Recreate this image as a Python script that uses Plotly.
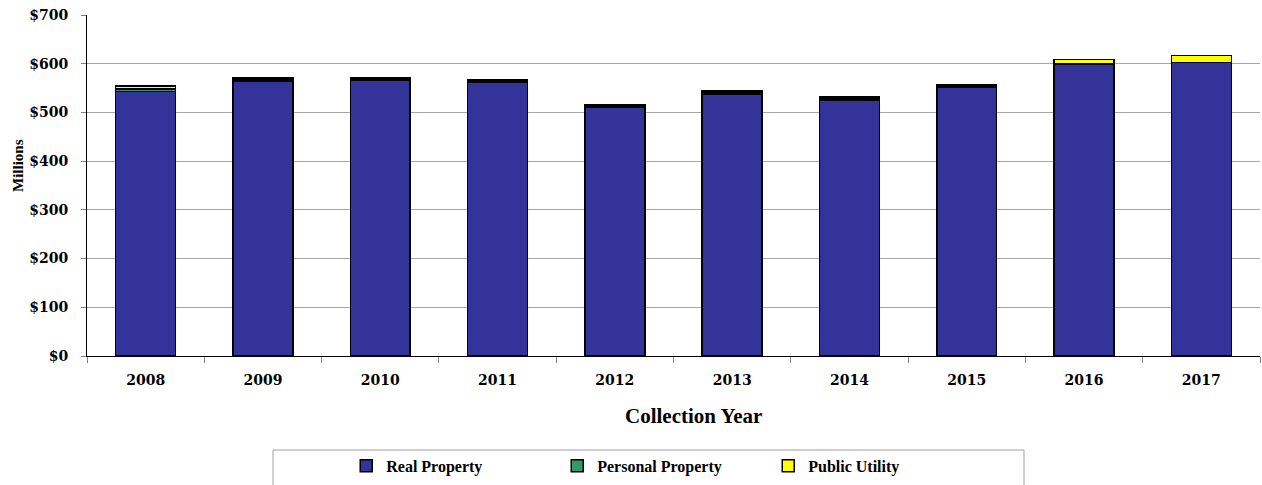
import plotly.graph_objects as go

years = ["2008", "2009", "2010", "2011", "2012", "2013", "2014", "2015", "2016", "2017"]
real_property = [543, 565, 566, 561, 511, 538, 526, 552, 598, 602]
personal_property = [5, 2.5, 2.5, 2.5, 2.5, 2.5, 2.5, 2.5, 1, 1]
public_utility = [6, 3, 3, 3, 3, 3, 3, 3, 10, 14]

TICKFONT = "DejaVu Serif"
TEXTFONT = "Liberation Serif"
line = dict(color="black", width=1.5)

fig = go.Figure()
fig.add_bar(x=years, y=real_property, name="Real Property",
            marker=dict(color="#333399", line=line))
fig.add_bar(x=years, y=personal_property, name="Personal Property",
            marker=dict(color="#339966", line=line))
fig.add_bar(x=years, y=public_utility, name="Public Utility",
            marker=dict(color="#FFFF00", line=line))

fig.update_layout(
    barmode="stack",
    bargap=0.49,
    width=1262, height=485,
    margin=dict(l=87, r=2, t=15, b=129),
    paper_bgcolor="white", plot_bgcolor="white",
    font=dict(family=TEXTFONT, size=15, color="black"),
    showlegend=True,
    legend=dict(orientation="h", x=0.221, xanchor="left", y=-0.272, yanchor="top",
                font=dict(family=TEXTFONT, size=16, color="black", weight="bold"),
                entrywidth=166, entrywidthmode="pixels",
                traceorder="normal", itemclick=False, bgcolor="rgba(0,0,0,0)"),
    shapes=[dict(type="rect", xref="paper", yref="paper",
                 x0=(273 - 87) / 1173, x1=(1024 - 87) / 1173,
                 y0=(356 - 450) / 341, y1=(356 - 500) / 341,
                 line=dict(color="#A0A0A0", width=1), fillcolor="rgba(0,0,0,0)")],
    annotations=[
        dict(text="<b>Millions</b>", xref="paper", yref="paper",
             x=(18 - 87) / 1173, y=(356 - 166) / 341, textangle=-90,
             showarrow=False, xanchor="center", yanchor="middle",
             font=dict(family=TEXTFONT, size=15, color="black")),
        dict(text="<b>Collection Year</b>", xref="paper", yref="paper",
             x=(693 - 87) / 1173, y=(356 - 416) / 341,
             showarrow=False, xanchor="center", yanchor="middle",
             font=dict(family=TEXTFONT, size=21, color="black")),
    ],
)

fig.update_xaxes(
    showline=True, linecolor="black", linewidth=1,
    ticks="outside", tickson="boundaries", ticklen=6, tickcolor="#808080",
    tickfont=dict(family=TICKFONT, size=14, color="black", weight="bold"),
    ticklabelstandoff=11,
    showgrid=False,
)
fig.update_yaxes(
    range=[0, 700], dtick=100, tickprefix="$",
    showline=True, linecolor="black", linewidth=1,
    ticks="outside", ticklen=5, tickcolor="#808080",
    ticklabelstandoff=10,
    showgrid=True, gridcolor="#A6A6A6", gridwidth=1,
    tickfont=dict(family=TICKFONT, size=14, color="black", weight="bold"),
    zeroline=False,
)

fig.write_html("out.html")
